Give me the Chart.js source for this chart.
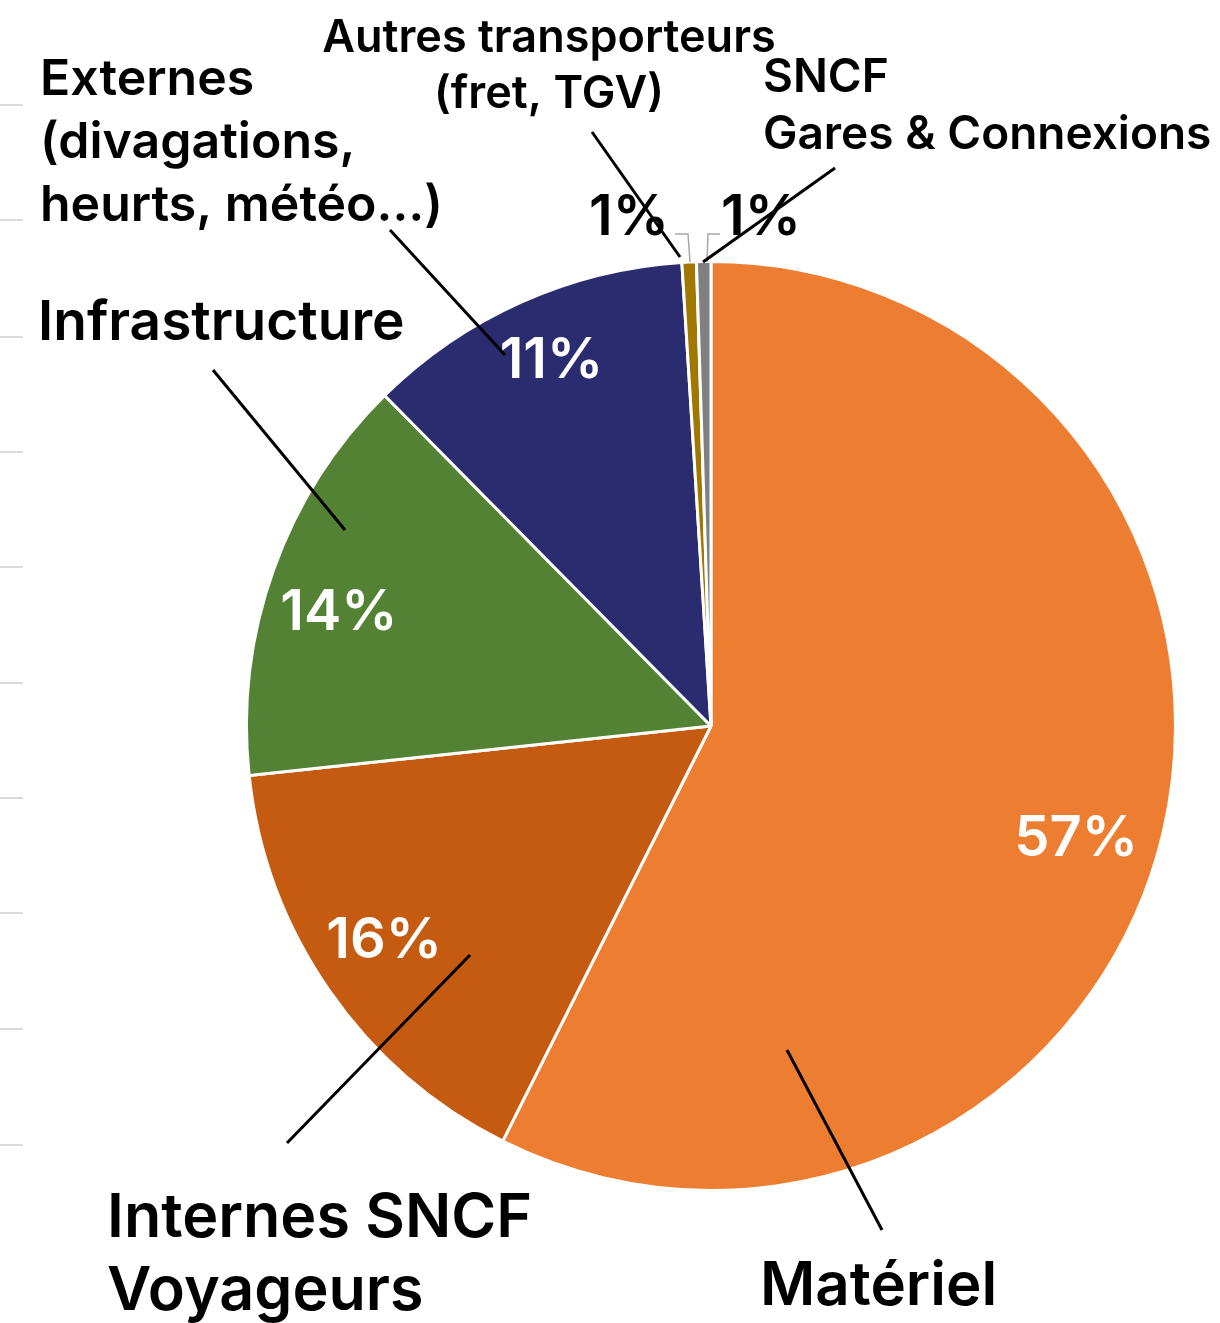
<!DOCTYPE html>
<html>
<head>
<meta charset="utf-8">
<script src="https://cdn.jsdelivr.net/npm/chart.js@4.4.0/dist/chart.umd.min.js"></script>
<style>
  html, body { margin: 0; padding: 0; background: #fff; }
  #wrap { width: 1220px; height: 1323px; position: relative; }
</style>
</head>
<body>
<div id="wrap"><canvas id="pie"></canvas></div>
<script>
// data (shares in %, clockwise from 12 o'clock)
const categories = ['Matériel', 'Internes SNCF Voyageurs', 'Infrastructure',
  'Externes (divagations, heurts, météo...)', 'Autres transporteurs (fret, TGV)', 'SNCF Gares & Connexions']
const shares = [57.4, 15.9, 14.3, 11.4, 0.5, 0.5]
const shareLabels = ['57%', '16%', '14%', '11%', '1%', '1%']
const sliceColors = ['#ED7D31', '#C55A11', '#548235', '#2B2C70', '#A07800', '#808080']

// category label text, split in lines, and where it sits on the page
const labelLines = [
  ['Matériel'],
  ['Internes SNCF', 'Voyageurs'],
  ['Infrastructure'],
  ['Externes', '(divagations,', 'heurts, météo…)'],
  ['Autres transporteurs', '(fret, TGV)'],
  ['SNCF', 'Gares & Connexions']
]
const labelStyle = [
  {x: 760, y: 1305, size: 60, lh: 0, align: 'left'},
  {x: 107, y: 1237, size: 61, lh: 73, align: 'left'},
  {x: 38, y: 340, size: 55, lh: 0, align: 'left'},
  {x: 40, y: 95, size: 50, lh: 63, align: 'left'},
  {x: 549, y: 52, size: 45, lh: 56, align: 'center'},
  {x: 763, y: 92, size: 46, lh: 57, align: 'left'}
]
// leader lines [x1, y1, x2, y2]
const leaders = [
  [787, 1050, 882, 1230],
  [470, 955, 287, 1143],
  [345, 530, 213, 370],
  [505, 355, 390, 230],
  [680, 257, 592, 132],
  [703, 262, 835, 168]
]
// inside value labels: nudge from mid-angle point
const insideNudge = [[-10, 24], [-10, -5], [-9, 17], [-2, -13]]
// outside value labels for the two thin slices
const outsideLabels = [{i: 4, x: 629, y: 235}, {i: 5, x: 761, y: 235}]
const leftTicks = [105, 220, 337, 452, 567, 683, 798, 913, 1029, 1145]

const FONT = 'Inter, "Noto Sans", sans-serif'

const decorations = {
  id: 'decorations',
  afterDraw(chart) {
    const ctx = chart.ctx
    const meta = chart.getDatasetMeta(0)
    ctx.save()

    // faint ticks on the left edge
    ctx.strokeStyle = '#d9d9d9'
    ctx.lineWidth = 2
    leftTicks.forEach(y => {
      ctx.beginPath(); ctx.moveTo(0, y); ctx.lineTo(23, y); ctx.stroke()
    })

    // small grey connectors above the thin slices
    ctx.strokeStyle = '#a6a6a6'
    ctx.lineWidth = 1.5
    ctx.beginPath(); ctx.moveTo(675, 234); ctx.lineTo(688, 234); ctx.lineTo(690, 262); ctx.stroke()
    ctx.beginPath(); ctx.moveTo(720, 234); ctx.lineTo(708, 234); ctx.lineTo(707, 262); ctx.stroke()

    // leader lines
    ctx.strokeStyle = '#000'
    ctx.lineWidth = 3
    leaders.forEach(l => {
      ctx.beginPath(); ctx.moveTo(l[0], l[1]); ctx.lineTo(l[2], l[3]); ctx.stroke()
    })

    // inside value labels
    ctx.fillStyle = '#fff'
    ctx.textAlign = 'center'
    ctx.textBaseline = 'middle'
    ctx.font = '600 56px ' + FONT
    insideNudge.forEach((n, i) => {
      const a = meta.data[i].getProps(['x', 'y', 'startAngle', 'endAngle', 'outerRadius'], true)
      const mid = (a.startAngle + a.endAngle) / 2
      const r = a.outerRadius * 0.83
      ctx.fillText(shareLabels[i], a.x + Math.cos(mid) * r + n[0], a.y + Math.sin(mid) * r + n[1])
    })

    // outside value labels
    ctx.fillStyle = '#000'
    ctx.textBaseline = 'alphabetic'
    outsideLabels.forEach(o => ctx.fillText(shareLabels[o.i], o.x, o.y))

    // category labels
    labelLines.forEach((lines, i) => {
      const s = labelStyle[i]
      ctx.font = '600 ' + s.size + 'px ' + FONT
      ctx.textAlign = s.align
      lines.forEach((t, k) => ctx.fillText(t, s.x, s.y + k * s.lh))
    })
    ctx.restore()
  }
}

new Chart(document.getElementById('pie'), {
  type: 'pie',
  data: {
    labels: categories,
    datasets: [{
      data: shares,
      backgroundColor: sliceColors,
      borderColor: '#fff',
      borderWidth: 3
    }]
  },
  options: {
    responsive: true,
    maintainAspectRatio: false,
    animation: false,
    layout: { padding: { left: 245, top: 260, right: 43, bottom: 131 } },
    plugins: {
      legend: { display: false },
      tooltip: { enabled: false }
    }
  },
  plugins: [decorations]
})
</script>
</body>
</html>
